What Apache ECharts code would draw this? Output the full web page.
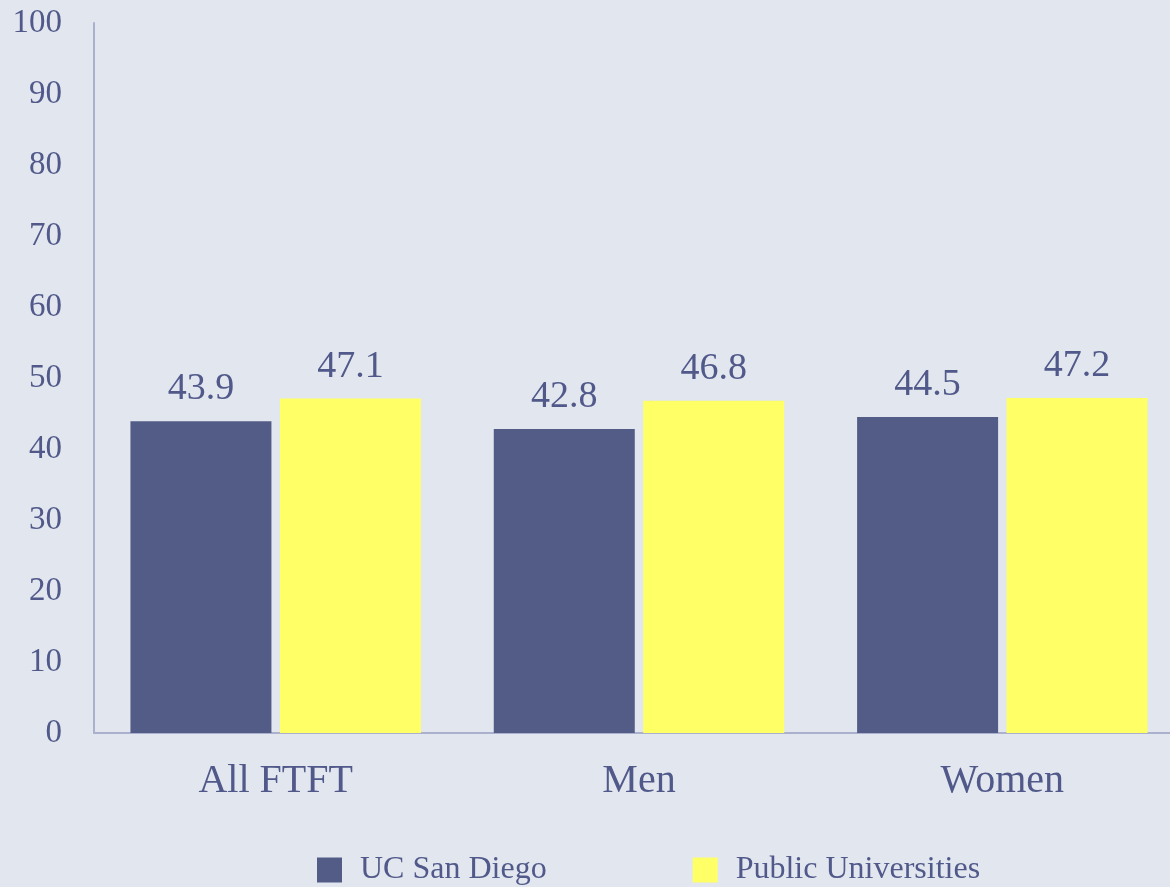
<!DOCTYPE html>
<html>
<head>
<meta charset="utf-8">
<script src="https://cdn.jsdelivr.net/npm/echarts@6/dist/echarts.min.js"></script>
<style>
  html, body { margin: 0; padding: 0; background: #e2e6ee; }
  #chart { width: 1170px; height: 887px; }
</style>
</head>
<body>
<div id="chart"></div>
<script>
var categories = ['All FTFT', 'Men', 'Women'];
var ucsd = [43.9, 42.8, 44.5];
var publicUnis = [47.1, 46.8, 47.2];
var seriesNames = ['UC San Diego', 'Public Universities'];

var textColor = '#50598a';
var axisColor = '#abb0cc';
var font = '"Liberation Serif", "Times New Roman", serif';

var chart = echarts.init(document.getElementById('chart'));
chart.setOption({
  backgroundColor: '#e2e6ee',
  color: ['#525c87', '#ffff66'],
  animation: false,
  grid: {
    left: 94,
    width: 1090,
    top: 23,
    bottom: 154,
    containLabel: false,
    outerBoundsMode: 'none'
  },
  legend: {
    data: seriesNames,
    left: 312,
    top: 849,
    itemWidth: 25,
    itemHeight: 25,
    itemGap: 146,
    icon: 'rect',
    textStyle: {
      fontFamily: font,
      fontSize: 32,
      color: textColor,
      padding: [0, 0, 0, 13]
    }
  },
  xAxis: {
    type: 'category',
    data: categories,
    axisLine: { lineStyle: { color: axisColor, width: 2 } },
    axisTick: { show: false },
    axisLabel: {
      fontFamily: font,
      fontSize: 40,
      color: textColor,
      margin: 28
    }
  },
  yAxis: {
    type: 'value',
    min: 0,
    max: 100,
    interval: 10,
    axisLine: { show: true, lineStyle: { color: axisColor, width: 2 } },
    axisTick: { show: false },
    splitLine: { show: false },
    axisLabel: {
      fontFamily: font,
      fontSize: 33,
      color: textColor,
      margin: 32
    }
  },
  series: [
    {
      name: seriesNames[0],
      type: 'bar',
      data: ucsd,
      barWidth: 141,
      barGap: '6%',
      label: {
        show: true,
        position: 'top',
        distance: 13,
        fontFamily: font,
        fontSize: 38,
        color: textColor
      }
    },
    {
      name: seriesNames[1],
      type: 'bar',
      data: publicUnis,
      barWidth: 141,
      barGap: '6%',
      label: {
        show: true,
        position: 'top',
        distance: 13,
        fontFamily: font,
        fontSize: 38,
        color: textColor
      }
    }
  ]
});
</script>
</body>
</html>
